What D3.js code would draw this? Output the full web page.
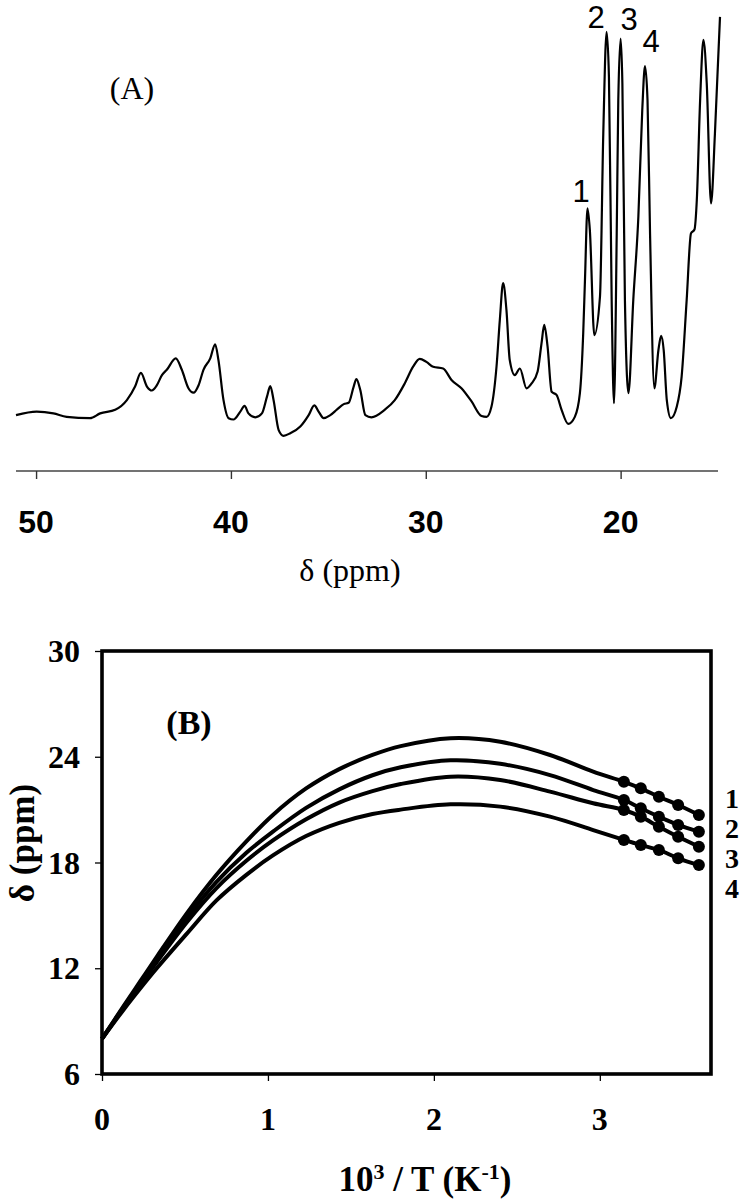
<!DOCTYPE html>
<html>
<head>
<meta charset="utf-8">
<script src="https://cdn.jsdelivr.net/npm/d3@7"></script>
<style>
  html, body { margin: 0; padding: 0; background: #fff; }
  svg { display: block; }
</style>
</head>
<body>
<svg id="chart" width="742" height="1200"></svg>
<script>
// ---------------- Panel A: spectrum ----------------
const specPpm = [51.03,49.97,49.11,48.43,47.23,46.71,45.94,45.34,44.92,44.62,44.31,44.06,43.80,43.54,43.29,42.83,42.52,42.18,41.92,41.66,41.41,41.06,40.81,40.64,40.38,40.12,39.87,39.52,39.30,39.10,38.75,38.41,38.15,37.98,37.81,37.55,37.30,36.95,36.44,36.01,35.72,35.50,35.24,34.90,34.55,34.21,33.96,33.70,33.56,33.36,33.10,32.79,
  32.11,31.59,31.08,30.65,30.31,29.97,29.62,29.11,28.68,28.17,27.65,27.14,26.88,26.63,26.37,26.20,26.03,25.86,25.69,25.43,25.17,24.83,24.57,24.26,24.06,23.92,23.75,23.54,23.29,23.03,22.69,22.35,22.09,21.92,21.83,21.70,21.58,21.35,21.06,20.89,20.72,20.60,20.46,20.34,20.20,20.12,20.00,19.91,19.78,19.60,19.35,19.09,18.89,18.75,18.62,18.49,18.27,18.06,17.92,17.79,17.63,17.42,17.12,16.87,16.61,16.39,16.21,16.09,15.92,15.75,15.58,15.36,15.16,14.90];
const specIntensity = [12.7,13.5,13.1,12.3,12.0,13.1,13.9,16.1,19.2,22.3,19.2,18.3,19.5,21.8,23.0,25.6,23.0,18.8,17.8,19.5,23.0,25.6,28.8,25.2,16.1,12.0,11.7,13.5,14.8,13.1,12.2,13.1,16.9,19.3,16.1,9.3,8.0,8.6,10.1,12.7,14.9,13.5,12.0,12.7,14.0,15.2,15.5,19.2,20.9,18.4,12.7,12.2,
  13.9,16.1,19.9,23.7,25.5,24.8,23.7,23.3,20.7,18.8,15.8,12.5,12.3,14.6,23.7,34.3,42.7,36.6,25.2,21.8,23.3,18.8,19.9,22.6,29.0,33.2,28.3,18.0,17.3,13.9,10.7,12.3,17.7,31.3,43.4,59.7,54.8,30.9,39.6,76.7,99.8,89.6,38.9,15.4,54.0,84.3,98.3,88.1,38.9,17.7,38.9,57.8,82.0,92.0,84.3,54.0,18.8,27.5,30.7,27.5,16.1,12.0,14.6,21.4,38.9,54.0,54.9,61.6,84.3,98.0,88.1,60.8,76.7,103.2];
const ppmTicks = [50, 40, 30, 20];
const peakLabels = ["1", "2", "3", "4"];
const peakLabelPpm = [22.03, 21.26, 19.57, 18.44];
const peakLabelIntensity = [61.1, 100.6, 100.3, 95.2];

// ---------------- Panel B: temperature dependence ----------------
const invT = [0, 0.13, 0.23, 0.33, 0.51, 0.69, 0.87, 1.03, 1.23, 1.43, 1.63, 1.80, 2.10, 2.40, 2.70, 2.96, 3.145, 3.247, 3.356, 3.472, 3.597];
const shift1 = [8.0, 9.85, 11.25, 12.65, 15.1, 17.3, 19.2, 20.7, 22.2, 23.3, 24.1, 24.6, 25.05, 24.85, 24.1, 23.15, 22.58, 22.21, 21.73, 21.26, 20.70];
const shift2 = [8.0, 9.8, 11.15, 12.5, 14.85, 16.9, 18.55, 19.75, 21.1, 22.15, 22.95, 23.4, 23.8, 23.6, 22.96, 22.11, 21.55, 21.08, 20.60, 20.13, 19.75];
const shift3 = [8.0, 9.75, 11.05, 12.35, 14.6, 16.55, 18.1, 19.25, 20.45, 21.4, 22.05, 22.45, 22.87, 22.68, 22.02, 21.36, 20.98, 20.60, 20.03, 19.46, 18.90];
const shift4 = [8.0, 9.65, 10.85, 12.0, 13.95, 15.85, 17.3, 18.4, 19.5, 20.25, 20.75, 21.0, 21.3, 21.17, 20.6, 19.84, 19.28, 18.99, 18.71, 18.24, 17.86];
const measuredInvT = [3.145, 3.247, 3.356, 3.472, 3.597];
const seriesNames = ["1", "2", "3", "4"];
const xTicksB = [0, 1, 2, 3];
const yTicksB = [6, 12, 18, 24, 30];

const svg = d3.select("#chart");

// ===== Panel A =====
const xA = d3.scaleLinear().domain([51.03, 14.9]).range([16, 720]);
const yA = d3.scaleLinear().domain([0, 100]).range([471, 31]);

const gA = svg.append("g");
const axisA = gA.append("g").attr("transform", "translate(0,471)")
  .call(d3.axisBottom(xA).tickValues(ppmTicks).tickSize(8).tickFormat(""));
axisA.select(".domain").attr("d", `M${xA(51.03)},0H${xA(14.9) - 2}`)
  .attr("stroke", "#444").attr("stroke-width", 1.6);
axisA.selectAll(".tick line").attr("stroke", "#333").attr("stroke-width", 1.4);

gA.selectAll("text.ppmtick").data(ppmTicks).enter().append("text")
  .attr("class", "ppmtick")
  .attr("x", d => xA(d)).attr("y", 533)
  .attr("text-anchor", "middle")
  .attr("font-family", "Liberation Sans, Arial, sans-serif")
  .attr("font-weight", "bold").attr("font-size", 32)
  .text(d => d);

gA.append("text").attr("x", 350).attr("y", 581)
  .attr("text-anchor", "middle")
  .attr("font-family", "Liberation Serif, Times New Roman, serif")
  .attr("font-size", 32)
  .text("δ (ppm)");

const specData = specPpm.map((p, i) => ({ p, v: specIntensity[i] }));
gA.append("path").datum(specData)
  .attr("fill", "none").attr("stroke", "#000").attr("stroke-width", 2.2)
  .attr("stroke-linejoin", "round")
  .attr("d", d3.line().x(d => xA(d.p)).y(d => yA(d.v)).curve(d3.curveMonotoneX));

gA.selectAll("text.peak").data(peakLabels).enter().append("text")
  .attr("class", "peak")
  .attr("x", (d, i) => xA(peakLabelPpm[i]))
  .attr("y", (d, i) => yA(peakLabelIntensity[i]))
  .attr("text-anchor", "middle")
  .attr("font-family", "Liberation Sans, Arial, sans-serif")
  .attr("font-size", 31)
  .text(d => d);

gA.append("text").attr("x", 132).attr("y", 99)
  .attr("text-anchor", "middle")
  .attr("font-family", "Liberation Serif, Times New Roman, serif")
  .attr("font-size", 32)
  .text("(A)");

// ===== Panel B =====
const xB = d3.scaleLinear().domain([0, 3.67]).range([102, 711]);
const yB = d3.scaleLinear().domain([6, 30]).range([1074, 651]);
const gB = svg.append("g");

const serif = "Liberation Serif, Times New Roman, serif";

const axB = gB.append("g").attr("transform", "translate(0,1074)")
  .call(d3.axisBottom(xB).tickValues(xTicksB).tickSize(7).tickFormat(""));
axB.select(".domain").remove();
axB.selectAll(".tick line").attr("stroke", "#000").attr("stroke-width", 1.3);

const ayB = gB.append("g").attr("transform", "translate(102,0)")
  .call(d3.axisLeft(yB).tickValues(yTicksB).tickSize(7).tickFormat(""));
ayB.select(".domain").remove();
ayB.selectAll(".tick line").attr("stroke", "#000").attr("stroke-width", 1.3);

gB.selectAll("text.xt").data(xTicksB).enter().append("text")
  .attr("class", "xt")
  .attr("x", d => xB(d)).attr("y", 1130)
  .attr("text-anchor", "middle")
  .attr("font-family", serif).attr("font-weight", "bold").attr("font-size", 32)
  .text(d => d);

gB.selectAll("text.yt").data(yTicksB).enter().append("text")
  .attr("class", "yt")
  .attr("x", 80).attr("y", d => yB(d) + 11)
  .attr("text-anchor", "end")
  .attr("font-family", serif).attr("font-weight", "bold").attr("font-size", 32)
  .text(d => d);

// axis titles
const xt = gB.append("text").attr("x", 425).attr("y", 1191)
  .attr("text-anchor", "middle")
  .attr("font-family", serif).attr("font-weight", "bold").attr("font-size", 35);
xt.append("tspan").text("10");
xt.append("tspan").attr("dy", -12).attr("font-size", 22).text("3");
xt.append("tspan").attr("dy", 12).text(" / T (K");
xt.append("tspan").attr("dy", -12).attr("font-size", 22).text("-1");
xt.append("tspan").attr("dy", 12).text(")");

gB.append("text")
  .attr("transform", "translate(34,843) rotate(-90)")
  .attr("text-anchor", "middle")
  .attr("font-family", serif).attr("font-weight", "bold").attr("font-size", 35)
  .text("δ (ppm)");

gB.append("text").attr("x", 189).attr("y", 734)
  .attr("text-anchor", "middle")
  .attr("font-family", serif).attr("font-weight", "bold").attr("font-size", 34)
  .text("(B)");

const allSeries = [shift1, shift2, shift3, shift4];
const line = d3.line().x(d => xB(d[0])).y(d => yB(d[1])).curve(d3.curveCatmullRom.alpha(0.5));
allSeries.forEach(s => {
  const pts = invT.map((x, i) => [x, s[i]]);
  gB.append("path").datum(pts)
    .attr("fill", "none").attr("stroke", "#000").attr("stroke-width", 4)
    .attr("stroke-linejoin", "round")
    .attr("d", line);
  const dots = pts.filter(p => measuredInvT.includes(p[0]));
  gB.selectAll(null).data(dots).enter().append("circle")
    .attr("cx", d => xB(d[0])).attr("cy", d => yB(d[1])).attr("r", 6)
    .attr("fill", "#000");
});

// frame
gB.append("rect").attr("x", xB(0)).attr("y", yB(30))
  .attr("width", xB(3.67) - xB(0)).attr("height", yB(6) - yB(30))
  .attr("fill", "none").attr("stroke", "#000").attr("stroke-width", 3.6);

// series labels on right
const labelY = [21.65, 19.95, 18.25, 16.55];
gB.selectAll("text.sl").data(seriesNames).enter().append("text")
  .attr("class", "sl")
  .attr("x", 732).attr("y", (d, i) => yB(labelY[i]) + 10)
  .attr("text-anchor", "middle")
  .attr("font-family", serif).attr("font-weight", "bold").attr("font-size", 28)
  .text(d => d);
</script>
</body>
</html>
